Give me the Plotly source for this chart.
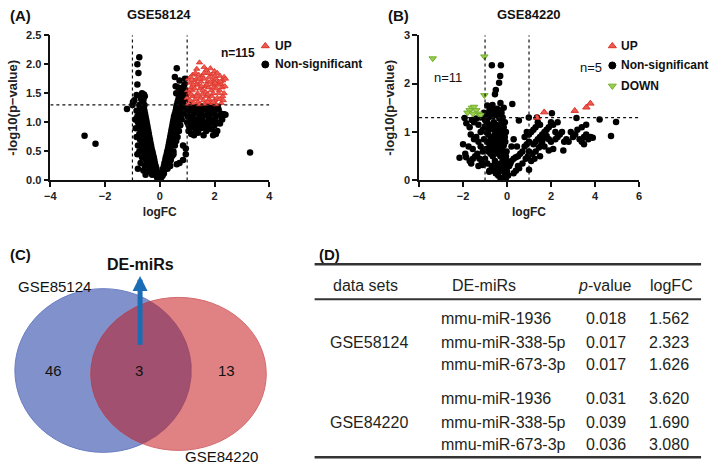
import numpy as np
import plotly.graph_objects as go

W, H = 709, 472
FONT = "Arial, 'Liberation Sans', sans-serif"

# ---------------- data: panel A (GSE58124) ----------------
a_ns = [
    (-0.05,0.05),(-0.08,0.1),(-0.1,0.15),(-0.12,0.2),(-0.15,0.25),(-0.18,0.3),(-0.2,0.35),(-0.22,0.4),
    (-0.25,0.45),(-0.27,0.5),(-0.3,0.55),(-0.32,0.6),(-0.34,0.65),(-0.36,0.7),(-0.38,0.75),(-0.4,0.8),
    (-0.42,0.85),(-0.44,0.9),(-0.46,0.95),(-0.48,1.0),(-0.5,1.05),(-0.52,1.1),(-0.54,1.15),(-0.56,1.2),
    (-0.58,1.25),(-0.6,1.3),(-0.62,1.35),(-0.6,1.42),(-0.58,1.48),(-0.55,1.45),
    (-0.15,0.1),(-0.25,0.15),(-0.3,0.2),(-0.4,0.25),(-0.45,0.3),(-0.5,0.35),(-0.55,0.42),(-0.6,0.5),
    (-0.65,0.55),(-0.7,0.6),(-0.72,0.7),(-0.75,0.8),(-0.78,0.9),(-0.8,1.0),(-0.82,1.1),(-0.85,1.2),
    (-0.7,1.15),(-0.68,1.05),(-0.66,0.95),(-0.64,0.85),(-0.62,0.78),(-0.58,0.7),(-0.55,0.62),(-0.52,0.56),
    (-0.48,0.5),(-0.45,0.6),(-0.5,0.75),(-0.55,0.85),(-0.6,0.95),(-0.65,1.1),(-0.7,1.25),(-0.75,1.3),
    (-0.68,1.4),(-0.72,1.45),(-0.8,0.2),(-0.7,0.3),(-0.65,0.4),(-0.6,0.17),(-0.55,0.25),(-0.35,0.35),
    (-0.38,0.5),(-0.42,0.7),(-0.45,0.8),(-0.4,0.55),(-0.3,0.4),(-0.2,0.2),(-0.25,0.3),(-0.35,0.2),
    (-0.45,0.15),(-0.52,0.1),(-0.62,0.65),(-0.75,0.5),(-0.8,0.6),(-0.85,0.75),(-0.88,0.9),(-0.78,1.2),
    (-0.9,1.05),(-0.82,0.45),(-0.68,0.85),(-0.58,1.05),(-0.48,0.65),(-0.32,0.28),(-0.28,0.1),(-0.1,0.05),
    (-0.18,0.12),(-0.42,0.4),(-0.6,0.6),(-0.72,0.95),(-0.52,0.95),(-0.56,1.3),(-0.64,1.2),
    (-0.75,2.12),(-0.82,2.0),(-0.78,1.85),(-0.82,1.65),(-0.85,1.47),(-0.98,1.35),(-1.0,1.3),(-0.93,1.38),
    (-1.2,1.23),(-2.75,0.77),(-2.35,0.63),(-0.65,1.5),(-0.6,1.38),
    (0.05,0.05),(0.08,0.1),(0.1,0.15),(0.12,0.2),(0.15,0.25),(0.17,0.3),(0.2,0.35),(0.22,0.4),
    (0.25,0.45),(0.27,0.5),(0.3,0.55),(0.32,0.6),(0.34,0.65),(0.36,0.7),(0.38,0.75),(0.4,0.8),
    (0.42,0.85),(0.44,0.9),(0.46,0.95),(0.48,1.0),(0.5,1.05),(0.52,1.1),(0.55,1.15),(0.58,1.2),
    (0.6,1.25),(0.62,1.3),(0.65,1.35),(0.68,1.4),(0.7,1.45),(0.75,1.5),(0.8,1.55),(0.85,1.6),(0.9,1.65),
    (0.2,0.2),(0.3,0.3),(0.35,0.4),(0.4,0.5),(0.45,0.6),(0.5,0.7),(0.55,0.8),(0.6,0.9),(0.65,1.0),
    (0.7,1.1),(0.75,1.2),(0.8,1.3),(0.85,1.35),(0.9,1.4),(0.95,1.45),(0.25,0.3),(0.3,0.42),(0.35,0.55),
    (0.4,0.65),(0.45,0.75),(0.5,0.88),(0.55,0.95),(0.6,1.05),(0.65,1.15),(0.7,1.25),(0.78,1.38),
    (0.88,1.48),(0.95,1.55),(0.92,1.25),(0.85,1.15),(0.8,1.05),(0.75,0.95),(0.7,0.85),(0.65,0.75),
    (0.6,0.68),(0.55,0.6),(0.5,0.5),(0.45,0.42),(0.4,0.35),(0.35,0.3),(0.15,0.12),(0.1,0.08),
    (0.28,0.2),(0.38,0.25),
    (0.62,1.93),(0.55,1.78),(0.72,1.72),(0.58,1.62),(0.68,1.6),(0.6,1.5),(0.5,0.45),(0.62,0.28),
    (0.72,0.3),(0.85,0.35),(0.95,0.45),(0.95,0.55),(0.85,0.6),(0.92,1.75),
    (1.0,1.28),(1.05,1.2),(1.1,1.25),(1.15,1.1),(1.2,1.22),(1.25,1.15),(1.3,1.05),(1.35,1.2),
    (1.4,1.25),(1.45,1.1),(1.5,1.18),(1.55,1.05),(1.6,1.22),(1.65,1.12),(1.7,1.0),(1.75,1.2),
    (1.8,1.08),(1.85,1.15),(1.9,1.25),(1.95,1.05),(2.0,1.18),(2.05,1.1),(2.1,1.0),(2.15,1.22),
    (2.2,1.12),(2.25,1.15),(2.35,1.14),(2.4,1.13),
    (1.0,1.0),(1.05,0.95),(1.1,0.9),(1.2,0.95),(1.3,0.88),(1.4,0.95),(1.5,0.9),(1.6,0.95),(1.7,0.85),
    (1.8,0.9),(1.9,0.88),(2.0,0.95),(2.1,0.85),(1.05,0.85),(1.15,0.8),(1.25,0.78),(1.4,0.82),(1.6,0.78),
    (2.05,0.8),(1.02,1.1),(1.12,1.02),(1.22,1.05),(1.35,1.0),(1.48,1.02),(1.62,0.92),(1.78,0.98),
    (1.88,1.0),(2.2,0.98),(2.28,1.05),(1.95,0.78),(1.0,1.15),(1.08,1.3),(1.28,1.28),(1.5,1.28),
    (1.72,1.28),(2.12,1.27),(3.3,0.48),
]
a_up = [
    (1.45,2.03),(1.85,1.93),(2.0,1.88),(1.7,1.9),(1.2,1.82),(1.3,1.85),(1.55,1.8),(1.9,1.82),(2.1,1.85),
    (2.2,1.8),(2.35,1.78),(2.3,1.72),(1.05,1.75),(1.1,1.68),(1.15,1.6),(1.25,1.72),(1.35,1.75),(1.4,1.65),
    (1.5,1.7),(1.6,1.75),(1.65,1.62),(1.75,1.7),(1.8,1.78),(1.95,1.72),(2.05,1.75),(2.15,1.7),(2.25,1.65),
    (2.4,1.75),(1.02,1.55),(1.08,1.5),(1.18,1.55),(1.28,1.58),(1.38,1.5),(1.48,1.58),(1.58,1.55),
    (1.68,1.52),(1.78,1.6),(1.88,1.55),(1.98,1.6),(2.08,1.58),(2.18,1.55),(2.28,1.6),(2.38,1.62),
    (1.0,1.42),(1.1,1.38),(1.2,1.45),(1.3,1.4),(1.4,1.35),(1.5,1.42),(1.6,1.38),(1.7,1.45),(1.8,1.4),
    (1.9,1.45),(2.0,1.38),(2.1,1.42),(2.2,1.4),(2.3,1.45),(1.05,1.32),(1.25,1.33),(1.45,1.31),(1.65,1.32),
    (1.85,1.33),(2.05,1.31),(2.25,1.33),(1.12,1.78),(1.42,1.82),(1.62,1.85),(1.78,1.85),(2.02,1.8),
    (2.12,1.65),(1.92,1.65),(1.72,1.65),(1.52,1.62),(1.32,1.65),(1.22,1.65),(1.15,1.48),(1.35,1.45),
    (1.55,1.48),(1.75,1.48),(1.95,1.5),(2.15,1.5),(2.35,1.5),(2.22,1.7),(2.32,1.38),(1.62,1.95),
    (1.35,1.92),(1.85,1.7),(2.02,1.68),(1.45,1.75),(1.75,1.35),(1.95,1.35),
]

# ---------------- data: panel B (GSE84220) ----------------
b_ns = [
    (-1.0,1.25),(-0.9,1.2),(-0.8,1.15),(-0.7,1.1),(-0.6,1.05),(-0.5,1.0),(-0.4,0.95),(-0.3,0.9),(-0.2,0.85),
    (-1.1,1.05),(-0.95,1.0),(-0.85,0.95),(-0.75,0.9),(-0.65,0.85),(-0.55,0.8),(-0.45,0.75),(-0.35,0.7),
    (-0.25,0.65),(-0.15,0.6),(-1.05,0.85),(-0.9,0.8),(-0.8,0.75),(-0.7,0.7),(-0.6,0.65),(-0.5,0.6),
    (-0.4,0.55),(-0.3,0.5),(-0.2,0.45),(-0.1,0.4),(-0.95,1.35),(-0.85,1.3),(-0.75,1.38),(-0.65,1.32),
    (-0.55,1.42),(-0.45,1.35),(-0.35,1.28),(-0.25,1.2),(-0.15,1.1),(-0.6,1.2),(-0.5,1.15),(-0.4,1.1),
    (-0.3,1.05),(-0.2,1.0),(-0.1,0.9),(-0.8,1.45),(-0.7,1.5),(-0.45,1.48),(-0.35,1.45),(-0.25,1.4),
    (-0.55,0.95),(-0.45,0.88),(-0.35,0.82),(-0.25,0.78),(-0.15,0.72),(-0.05,0.3),(-0.08,0.2),(-0.1,0.1),
    (-0.05,0.05),(-0.02,0.15),(-0.12,0.25),(-0.15,0.35),(-0.2,0.3),(-0.25,0.2),(-0.3,0.35),(-0.35,0.25),
    (-0.45,0.3),(-0.55,0.4),(-0.65,0.5),(-0.75,0.55),(-0.85,0.6),(-0.95,0.65),(-1.1,0.6),(-1.2,0.7),
    (-1.3,0.8),(-1.4,0.9),(-1.2,1.0),(-1.3,1.15),(-1.5,1.2),(-1.6,1.25),(-1.4,1.28),(-1.7,1.1),
    (-1.65,0.95),(-1.5,0.85),(-1.75,0.7),(-1.56,0.65),(-1.35,0.55),(-1.25,0.45),(-1.0,0.45),(-1.15,0.35),
    (-1.3,0.3),(-0.9,0.35),(-0.7,0.3),(-0.8,0.2),(-0.6,0.2),(-0.5,0.15),(-0.4,0.1),(-0.3,0.05),
    (-2.16,0.47),(-1.86,0.48),(-1.63,0.35),(-1.11,0.32),(-0.81,0.18),(-0.51,0.15),(-1.93,1.29),
    (-1.85,1.18),(-2.0,0.75),(-1.9,0.55),(-1.45,0.5),(-1.55,0.45),(-1.7,0.4),(-0.69,2.38),(-0.28,2.38),
    (-0.31,2.16),(-0.36,2.02),(-0.51,1.87),(-0.55,1.78),(-0.66,1.56),(-0.9,1.55),(-0.3,1.6),(-0.2,1.3),
    (-0.1,1.2),(-0.05,1.0),(-0.08,0.8),(-0.02,0.6),(-0.05,0.5),(0.0,0.4),(0.02,0.3),(0.05,0.1),(0.0,0.2),
    (-0.15,1.5),(-1.2,1.3),(-1.05,1.4),(-0.65,0.65),(-0.75,0.78),(-0.42,0.65),(-0.32,0.6),(-0.85,1.05),
    (-1.0,1.12),
    (0.24,1.58),(0.54,1.24),(0.99,1.3),(0.1,0.3),(0.15,0.35),(0.2,0.4),(0.3,0.45),(0.4,0.48),(0.5,0.5),
    (0.6,0.55),(0.7,0.6),(0.8,0.7),(0.9,0.75),(1.0,0.8),(0.55,0.25),(0.7,0.35),(0.85,0.45),(0.95,0.5),
    (1.0,0.22),(1.0,0.6),(0.5,0.3),(0.4,0.2),(0.3,0.15),(0.8,0.9),(0.9,1.0),(1.0,0.95),(1.1,1.0),
    (1.2,1.05),(1.3,1.1),(1.36,1.3),(1.4,1.2),(1.5,1.15),(1.6,0.95),(1.7,1.0),(1.8,1.05),(1.9,1.1),
    (2.04,1.39),(2.0,1.2),(2.1,1.15),(2.2,1.0),(2.3,0.9),(2.4,0.95),(1.2,0.75),(1.3,0.8),(1.4,0.85),
    (1.5,0.9),(1.6,0.8),(1.7,0.88),(1.8,0.92),(1.9,0.85),(2.0,0.8),(1.15,0.55),(1.3,0.6),(1.45,0.68),
    (1.55,0.72),(1.7,0.7),(1.9,0.62),(2.1,0.65),(1.5,0.5),(2.56,0.62),(2.6,0.8),(2.7,0.85),(2.8,0.8),
    (3.0,0.9),(2.9,1.0),(3.1,0.95),(3.16,1.29),(3.3,0.85),(3.4,0.8),(3.5,0.9),(3.6,0.95),(3.7,0.85),
    (3.8,0.9),(3.9,0.88),(3.5,0.75),(3.2,1.05),(3.4,1.1),(3.6,1.15),(4.21,1.26),(4.96,1.21),(4.73,0.92),
    (2.5,1.0),(2.3,1.2),(2.2,0.85),(1.1,0.4),(1.25,0.45),(0.3,0.85),(0.2,0.7),(0.45,0.7),
]
b_up = [(1.36,1.30),(1.69,1.41),(3.08,1.44),(3.61,1.51),(3.79,1.59)]
b_down = [(-3.38,2.52),(-1.03,2.56),(-1.03,1.76),(-1.6,1.5),(-1.5,1.52),(-1.7,1.45),(-1.8,1.4),
          (-1.4,1.45),(-1.3,1.38),(-1.55,1.38),(-1.2,1.35)]

FC_CUT = 1.0
P_CUT = 1.3  # -log10(0.05)

# ---------------- data: panel C / D ----------------
venn_sets = ["GSE85124", "GSE84220"]
venn_counts = [46, 3, 13]
table_header = ["data sets", "DE-miRs", "<i>p</i>-value", "logFC"]
table_sets = ["GSE58124", "GSE84220"]
table_mirs = ["mmu-miR-1936", "mmu-miR-338-5p", "mmu-miR-673-3p"]
table_p = [["0.018", "0.017", "0.017"], ["0.031", "0.039", "0.036"]]
table_fc = [["1.562", "2.323", "1.626"], ["3.620", "1.690", "3.080"]]

C_BLACK = "#000000"
C_UP = "#ee5a50"
C_UP_LINE = "#dc3128"
C_DOWN = "#9acd4e"
C_DOWN_LINE = "#74b030"


def xs(pts):
    return [p[0] for p in pts]


def ys(pts):
    return [p[1] for p in pts]


def px(x):
    return x / W


def py(y):
    return 1 - y / H


fig = go.Figure()

# panel A traces
fig.add_trace(go.Scatter(x=xs(a_ns), y=ys(a_ns), mode="markers", xaxis="x", yaxis="y",
                         marker=dict(color=C_BLACK, size=6.5), name="Non-significant"))
fig.add_trace(go.Scatter(x=xs(a_up), y=ys(a_up), mode="markers", xaxis="x", yaxis="y",
                         marker=dict(color=C_UP, size=5.5, symbol="triangle-up",
                                     line=dict(color=C_UP_LINE, width=0.8)), name="UP"))
# panel B traces
fig.add_trace(go.Scatter(x=xs(b_ns), y=ys(b_ns), mode="markers", xaxis="x2", yaxis="y2",
                         marker=dict(color=C_BLACK, size=6.5), name="Non-significant"))
fig.add_trace(go.Scatter(x=xs(b_up), y=ys(b_up), mode="markers", xaxis="x2", yaxis="y2",
                         marker=dict(color=C_UP, size=6.5, symbol="triangle-up",
                                     line=dict(color=C_UP_LINE, width=1)), name="UP"))
fig.add_trace(go.Scatter(x=xs(b_down), y=ys(b_down), mode="markers", xaxis="x2", yaxis="y2",
                         marker=dict(color=C_DOWN, size=6.5, symbol="triangle-down",
                                     line=dict(color=C_DOWN_LINE, width=1)), name="DOWN"))

# ---- overlay pixel axes (x3/y3) for legend keys and Venn lens ----
leg_keys = [  # (x, y, symbol, fill, line)
    (263, 41, "triangle-up", C_UP, C_UP_LINE), (263, 60, "circle", C_BLACK, C_BLACK),
    (615, 41, "triangle-up", C_UP, C_UP_LINE), (615, 61, "circle", C_BLACK, C_BLACK),
    (615, 82, "triangle-down", C_DOWN, C_DOWN_LINE),
]
for kx, ky, sym, col, lcol in leg_keys:
    fig.add_trace(go.Scatter(x=[kx], y=[ky], mode="markers", xaxis="x3", yaxis="y3",
                             marker=dict(symbol=sym, color=col, size=7, line=dict(color=lcol, width=1)),
                             hoverinfo="skip"))

# Venn geometry (pixel space)
blue = dict(cx=98.5, cy=374, rx=89.5, ry=84)
red = dict(cx=175, cy=377.5, rx=89, ry=78.5)


def inside(e, x, y):
    return ((x - e["cx"]) / e["rx"]) ** 2 + ((y - e["cy"]) / e["ry"]) ** 2 <= 1


t1 = np.linspace(-np.pi, np.pi, 1441)
bx = blue["cx"] + blue["rx"] * np.cos(t1)
by = blue["cy"] + blue["ry"] * np.sin(t1)
m1 = inside(red, bx, by)
t2 = np.linspace(0, 2 * np.pi, 1441)
rx_ = red["cx"] + red["rx"] * np.cos(t2)
ry_ = red["cy"] + red["ry"] * np.sin(t2)
m2 = inside(blue, rx_, ry_)
lens_x = list(bx[m1]) + list(rx_[m2])
lens_y = list(by[m1]) + list(ry_[m2])
fig.add_trace(go.Scatter(x=lens_x, y=lens_y, mode="lines", fill="toself", xaxis="x3", yaxis="y3",
                         fillcolor="#a2506f", line=dict(width=0.8, color="#9a4868"), hoverinfo="skip"))

shapes = []
for e, fc, lc in [(blue, "#8091cc", "#6b7dc2"), (red, "#e08284", "#d46a6e")]:
    shapes.append(dict(type="circle", xref="x3", yref="y3", layer="below",
                       x0=e["cx"] - e["rx"], x1=e["cx"] + e["rx"],
                       y0=e["cy"] - e["ry"], y1=e["cy"] + e["ry"],
                       fillcolor=fc, line=dict(color=lc, width=1)))

# threshold lines
for xr, yr, xmin, xmax, ymax in [("x", "y", -4, 4, 2.5), ("x2", "y2", -4, 6, 3)]:
    for v in (-FC_CUT, FC_CUT):
        shapes.append(dict(type="line", xref=xr, yref=yr, x0=v, x1=v, y0=0, y1=ymax,
                           line=dict(color="#111", width=1.2, dash="dot")))
    shapes.append(dict(type="line", xref=xr, yref=yr, x0=xmin, x1=xmax, y0=P_CUT, y1=P_CUT,
                       line=dict(color="#111", width=1.2, dash="dot")))

# table rules
for yy, wd in [(265, 2.5), (301, 2), (463, 2.5)]:
    shapes.append(dict(type="line", xref="x3", yref="y3", x0=313, x1=705, y0=yy, y1=yy,
                       line=dict(color="#333", width=wd)))

ann = []


def text(x, y, s, size=12, bold=False, anchor="center", color="#111"):
    ann.append(dict(x=x, y=y, xref="x3", yref="y3", text=s, showarrow=False,
                    xanchor=anchor, yanchor="middle",
                    font=dict(family=FONT, size=size, color=color,
                              weight="bold" if bold else "normal")))


# panel labels & titles
text(2, 10, "(A)", 15, True, "left")
text(155, 9, "GSE58124", 13, True)
text(385, 10, "(B)", 15, True, "left")
text(530, 9, "GSE84220", 13, True)
text(2, 255, "(C)", 15, True, "left")
text(315, 255, "(D)", 15, True, "left")

# legends
text(271, 41, "UP", 12, True, "left")
text(271, 60, "Non-significant", 12, True, "left")
text(622, 41, "UP", 12, True, "left")
text(622, 61, "Non-significant", 12, True, "left")
text(622, 82, "DOWN", 12, True, "left")
text(235, 48, "n=115", 12, True)
text(593, 63, "n=5", 13, False)
text(448, 73, "n=11", 13, False)

# Venn labels
text(10, 288, venn_sets[0], 15, False, "left")
text(180, 462, venn_sets[1], 15, False, "left")
text(48, 374, str(venn_counts[0]), 15)
text(135, 374, str(venn_counts[1]), 15)
text(224, 374, str(venn_counts[2]), 15)
text(136, 265, "DE-miRs", 16, True)
ann.append(dict(x=136, y=277, ax=136, ay=349, xref="x3", yref="y3", axref="x3", ayref="y3",
                text="", showarrow=True, arrowhead=2, arrowsize=0.6, arrowwidth=5,
                arrowcolor="#1a6db5"))

# table
TC = "#231f20"
for hx, h in zip([365, 485, 608, 675], table_header):
    text(hx, 287, h, 16, False, "center", TC)
row_y = [[321, 345, 368], [403, 427, 450]]
for gi, g in enumerate(table_sets):
    text(368, row_y[gi][1], g, 16, False, "center", TC)
    for ri, m in enumerate(table_mirs):
        yy = row_y[gi][ri]
        text(439, yy, m, 16, False, "left", TC)
        text(609, yy, table_p[gi][ri], 16, False, "center", TC)
        text(672, yy, table_fc[gi][ri], 16, False, "center", TC)

axis_common = dict(showgrid=False, zeroline=False, showline=True, linecolor="#111", linewidth=1.5,
                   ticks="outside", ticklen=5, tickwidth=1.5, tickcolor="#111",
                   tickfont=dict(family=FONT, size=11, color="#222", weight="bold"))
xtitle = dict(text="logFC", font=dict(family=FONT, size=12, color="#222", weight="bold"), standoff=6)
ytitle = dict(text="-log10(p\u2212value)", font=dict(family=FONT, size=13, color="#222", weight="bold"),
              standoff=6)

fig.update_layout(
    width=W, height=H, margin=dict(l=0, r=0, t=0, b=0),
    paper_bgcolor="white", plot_bgcolor="rgba(0,0,0,0)", showlegend=False,
    xaxis=dict(domain=[px(45), px(267)], range=[-4, 4], anchor="y", tickvals=[-4, -2, 0, 2, 4],
               title=xtitle, **axis_common),
    yaxis=dict(domain=[py(179), py(30)], range=[0, 2.5], anchor="x", tickvals=[0, 0.5, 1, 1.5, 2, 2.5],
               tickformat=".1f", title=ytitle, **axis_common),
    xaxis2=dict(domain=[px(419), px(642)], range=[-4, 6], anchor="y2", tickvals=[-4, -2, 0, 2, 4, 6],
                title=xtitle, **axis_common),
    yaxis2=dict(domain=[py(179), py(30)], range=[0, 3], anchor="x2", tickvals=[0, 1, 2, 3],
                title=ytitle, **axis_common),
    xaxis3=dict(domain=[0, 1], range=[0, W], anchor="y3", visible=False, fixedrange=True),
    yaxis3=dict(domain=[0, 1], range=[H, 0], anchor="x3", visible=False, fixedrange=True),
    shapes=shapes, annotations=ann,
)

fig.write_html("out.html", config={"displayModeBar": False},
               post_script="document.body.style.margin='0';document.body.style.padding='0';"
                           "document.documentElement.style.overflow='hidden';")
